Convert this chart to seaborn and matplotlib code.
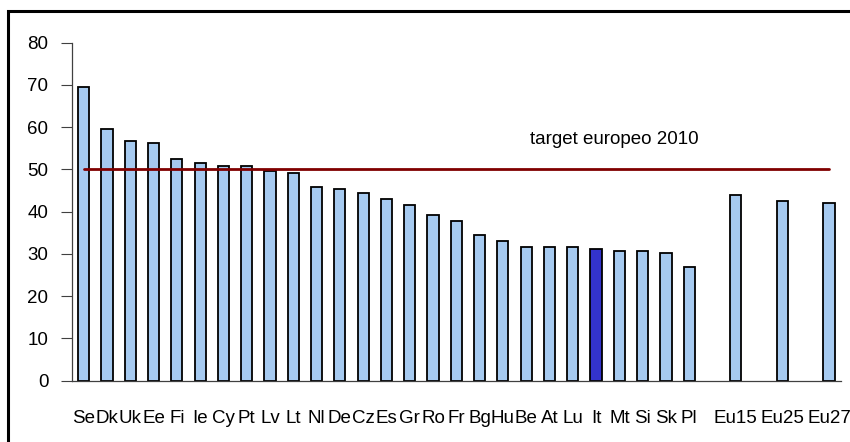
import numpy as np
import pandas as pd
import matplotlib
matplotlib.use("Agg")
import matplotlib.pyplot as plt
from matplotlib.patches import Rectangle
import seaborn as sns

# Country codes, ordered by value, followed by the EU aggregates
paesi = ["Se", "Dk", "Uk", "Ee", "Fi", "Ie", "Cy", "Pt", "Lv", "Lt", "Nl", "De", "Cz",
         "Es", "Gr", "Ro", "Fr", "Bg", "Hu", "Be", "At", "Lu", "It", "Mt", "Si", "Sk", "Pl"]
valori_paesi = [69.5, 59.6, 56.7, 56.3, 52.5, 51.5, 50.7, 50.7, 49.7, 49.2, 45.8, 45.4, 44.5,
                43.0, 41.7, 39.3, 37.9, 34.5, 33.1, 31.7, 31.7, 31.7, 31.2, 30.8, 30.8, 30.3, 27.0]
aggregati = ["Eu15", "Eu25", "Eu27"]
valori_aggregati = [44.0, 42.6, 42.1]

target = 50
target_label = "target europeo 2010"
evidenziato = "It"

# Axis order: the aggregates are separated by empty slots
spazi = ["_s1", "_s2", "_s3"]
ordine = paesi + [spazi[0], aggregati[0], spazi[1], aggregati[1], spazi[2], aggregati[2]]
etichette = [c if not c.startswith("_") else "" for c in ordine]

df = pd.DataFrame({
    "paese": paesi + aggregati,
    "valore": valori_paesi + valori_aggregati,
})

azzurro = "#A6CAF0"
blu = "#3333CC"
palette = {p: (blu if p == evidenziato else azzurro) for p in df["paese"]}

sns.set_style("white")
plt.rcParams["font.family"] = ["Liberation Sans", "DejaVu Sans"]

fig = plt.figure(figsize=(8.5, 4.42), dpi=100)
ax = fig.add_axes([0.0847, 0.1387, 0.9043, 0.7647])

sns.barplot(data=df, x="paese", y="valore", hue="paese", order=ordine,
            palette=palette, legend=False, width=0.48, saturation=1,
            edgecolor="black", linewidth=1.3, ax=ax)

# 2010 European target line
ax.plot([0, len(ordine) - 1], [target, target], color="#800000", lw=2.0, zorder=3)
ax.text(22.8, 57, target_label, ha="center", va="center", fontsize=13.5, color="black")

ax.set_xlim(-0.5, len(ordine) - 0.5)
ax.set_ylim(0, 80)
ax.set_yticks(np.arange(0, 81, 10))
ax.set_xticks(np.arange(len(ordine)))
ax.set_xticklabels(etichette)
ax.set_xticks(np.arange(len(ordine) + 1) - 0.5, minor=True)
ax.set_xlabel("")
ax.set_ylabel("")

ax.tick_params(axis="x", which="major", length=0, pad=21, labelsize=13.5, labelcolor="black")
ax.tick_params(axis="x", which="minor", length=6, width=0.8, color="#404040", direction="out")
ax.tick_params(axis="y", which="major", length=8, width=0.8, color="#404040",
               direction="out", pad=9, labelsize=13.5, labelcolor="black", left=True)

for s in ["top", "right"]:
    ax.spines[s].set_visible(False)
for s in ["left", "bottom"]:
    ax.spines[s].set_color("#404040")
    ax.spines[s].set_linewidth(0.9)

# Outer chart frame
fig.patches.append(Rectangle((0.0098, -0.05), 1.05, 0.975 + 0.05, transform=fig.transFigure,
                             fill=False, edgecolor="black", lw=2.2))

fig.savefig("out.png", dpi=100)
